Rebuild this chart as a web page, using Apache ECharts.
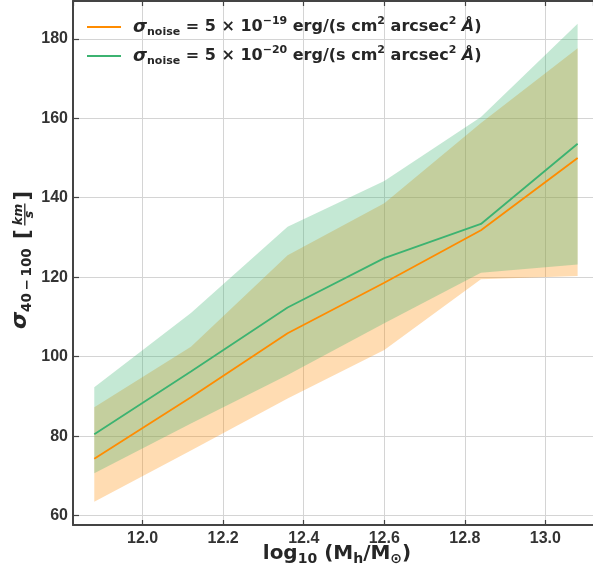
<!DOCTYPE html>
<html>
<head>
<meta charset="utf-8">
<script src="https://cdn.jsdelivr.net/npm/echarts@6/dist/echarts.min.js"></script>
<style>
html,body{margin:0;padding:0;background:#fff;}
#c{width:593px;height:577px;}
</style>
</head>
<body>
<div id="c"></div>
<script>
// ---- data ----
const xVals = [11.88, 12.12, 12.36, 12.60, 12.84, 13.08];
const orangeMean = [74.3, 89.8, 105.9, 118.6, 131.8, 150.0];
const orangeLow  = [63.5, 76.4, 89.5, 101.7, 119.5, 120.3];
const orangeHigh = [87.3, 102.5, 125.5, 138.6, 158.8, 177.6];
const greenMean  = [80.5, 96.3, 112.4, 124.8, 133.4, 153.6];
const greenLow   = [70.7, 83.2, 95.4, 108.4, 121.1, 123.2];
const greenHigh  = [92.3, 111.0, 132.7, 144.2, 160.3, 183.8];
const seriesNames = ['noise19', 'noise20'];
const seriesExponents = ['\u221219', '\u221220'];

// ---- styling ----
const ORANGE = '#ff8c00';
const GREEN = '#3cb371';
const TXT = '#262626';
const AXIS = '#444444';
const FONT = 'DejaVu Sans';

const chart = echarts.init(document.getElementById('c'), null, {renderer: 'canvas'});

function bandSeries(lo, hi, fill) {
  return {
    type: 'custom',
    silent: true,
    z: 1,
    clip: true,
    data: xVals.map((x, i) => [x, lo[i], hi[i]]),
    encode: {x: 0, y: [1, 2]},
    renderItem: function (params, api) {
      if (params.dataIndex !== 0) return null;
      const pts = [];
      for (let i = 0; i < xVals.length; i++) pts.push(api.coord([xVals[i], hi[i]]));
      for (let i = xVals.length - 1; i >= 0; i--) pts.push(api.coord([xVals[i], lo[i]]));
      return {type: 'polygon', shape: {points: pts}, style: {fill: fill}};
    }
  };
}

function lineSeries(name, ys, color) {
  return {
    name: name,
    type: 'line',
    z: 3,
    data: xVals.map((x, i) => [x, ys[i]]),
    showSymbol: false,
    symbol: 'none',
    color: color,
    lineStyle: {color: color, width: 1.8},
    silent: true,
    animation: false
  };
}

const base = {fontFamily: FONT, fontWeight: 'bold', color: TXT};
const legendRich = {
  g: Object.assign({}, base, {fontStyle: 'italic', fontSize: 18, lineHeight: 22}),
  sb: Object.assign({}, base, {fontSize: 11, lineHeight: 10, verticalAlign: 'bottom'}),
  t: Object.assign({}, base, {fontSize: 16, lineHeight: 22}),
  sp: Object.assign({}, base, {fontSize: 11, lineHeight: 10, verticalAlign: 'top'}),
  a: Object.assign({}, base, {fontStyle: 'italic', fontSize: 16, lineHeight: 22})
};

function legendLabel(name) {
  const e = seriesExponents[seriesNames.indexOf(name)];
  return '{g|\u03c3}{sb|noise}{t| = 5 \u00d7 10}{sp|' + e + '}{t| erg/(s cm}{sp|2}{t| arcsec}{sp|2}{a| \u00c5}{t|)}';
}

const xRich = {
  n: Object.assign({}, base, {fontSize: 20, lineHeight: 24}),
  s: Object.assign({}, base, {fontSize: 14, lineHeight: 19, verticalAlign: 'bottom'})
};

const option = {
  animation: false,
  backgroundColor: '#ffffff',
  grid: {left: 73, right: 0, top: 1, bottom: 52, containLabel: false},
  xAxis: [{
    type: 'value',
    min: 11.8272, max: 13.1182,
    splitNumber: 6,
    axisLine: {show: true, lineStyle: {color: AXIS, width: 2}},
    axisTick: {show: true, inside: true, length: 5, lineStyle: {color: AXIS, width: 1.2}},
    axisLabel: {
      showMinLabel: false, showMaxLabel: false, margin: 6,
      fontFamily: 'Liberation Sans', fontWeight: 'bold', fontSize: 16, color: '#333333',
      formatter: v => v.toFixed(1)
    },
    splitLine: {show: true, lineStyle: {color: '#d4d4d4', width: 1}},
    name: '{n|log}{s|10}{n| (M}{s|h}{n|/M}{s|\u2299}{n|)}',
    nameLocation: 'middle',
    nameGap: 17,
    nameMoveOverlap: false,
    nameTextStyle: {rich: xRich, verticalAlign: 'top', padding: [0, 0, 0, 8]}
  }, {
    type: 'value',
    position: 'top',
    min: 11.8272, max: 13.1182,
    splitNumber: 6,
    axisLine: {show: true, lineStyle: {color: AXIS, width: 2}},
    axisTick: {show: true, inside: true, length: 5, lineStyle: {color: AXIS, width: 1.2}},
    axisLabel: {show: false},
    splitLine: {show: false}
  }],
  yAxis: {
    type: 'value',
    min: 57.66, max: 189.5,
    splitNumber: 6,
    axisLine: {show: true, lineStyle: {color: AXIS, width: 2}},
    axisTick: {show: true, inside: true, length: 6, lineStyle: {color: AXIS, width: 1.2}},
    axisLabel: {
      showMinLabel: false, showMaxLabel: false, margin: 5,
      fontFamily: 'Liberation Sans', fontWeight: 'bold', fontSize: 16, color: '#333333',
      formatter: v => String(Math.round(v))
    },
    splitLine: {show: true, lineStyle: {color: '#d4d4d4', width: 1}}
  },
  legend: {
    data: seriesNames,
    orient: 'vertical',
    left: 87, top: 16,
    padding: 0,
    itemWidth: 34, itemHeight: 2,
    itemGap: 7,
    icon: 'rect',
    formatter: legendLabel,
    textStyle: Object.assign({}, base, {fontSize: 16, padding: [0, 0, 0, 7], rich: legendRich})
  },
  graphic: [{
    type: 'group',
    x: 24.5, y: 330,
    rotation: Math.PI / 2,
    silent: true,
    children: [
      {type: 'text', x: 1, y: -4, style: {text: '\u03c3', font: 'italic bold 22px "DejaVu Sans"', fill: TXT, align: 'left', verticalAlign: 'middle'}},
      {type: 'text', x: 18, y: 3.2, style: {text: '40\u2009\u2212\u2009100', font: 'bold 13.5px "DejaVu Sans"', fill: TXT, align: 'left', verticalAlign: 'middle'}},
      {type: 'text', x: 91, y: -1.2, style: {text: '[', font: 'bold 21px "DejaVu Sans"', fill: TXT, align: 'left', verticalAlign: 'middle'}},
      {type: 'text', x: 115.5, y: -5.6, style: {text: 'km', font: 'italic bold 12.5px "DejaVu Sans"', fill: TXT, align: 'center', verticalAlign: 'middle'}},
      {type: 'line', shape: {x1: 104.5, y1: 0.3, x2: 126.5, y2: 0.3}, style: {stroke: TXT, lineWidth: 1.3}},
      {type: 'text', x: 115.5, y: 5.2, style: {text: 's', font: 'italic bold 12.5px "DejaVu Sans"', fill: TXT, align: 'center', verticalAlign: 'middle'}},
      {type: 'text', x: 139, y: -1.2, style: {text: ']', font: 'bold 21px "DejaVu Sans"', fill: TXT, align: 'right', verticalAlign: 'middle'}}
    ]
  }],
  series: [
    bandSeries(orangeLow, orangeHigh, 'rgba(255,140,0,0.3)'),
    bandSeries(greenLow, greenHigh, 'rgba(60,179,113,0.3)'),
    lineSeries(seriesNames[0], orangeMean, ORANGE),
    lineSeries(seriesNames[1], greenMean, GREEN)
  ]
};
chart.setOption(option);
</script>
</body>
</html>
